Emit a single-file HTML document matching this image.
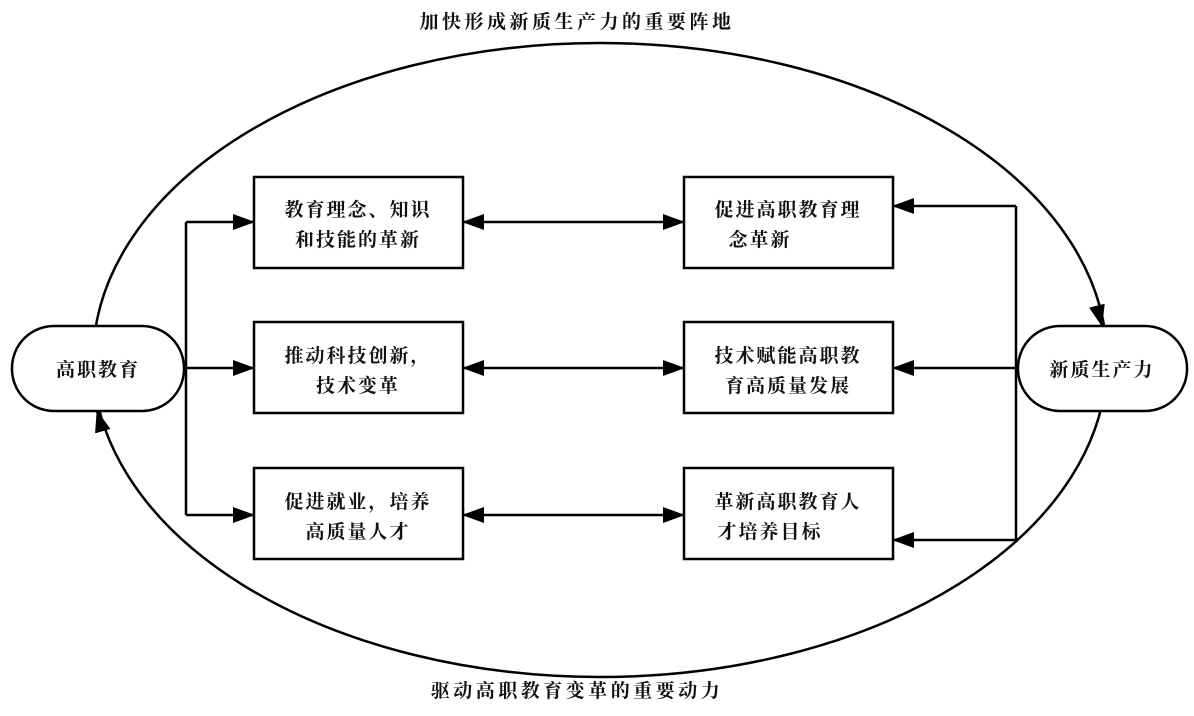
<!DOCTYPE html>
<html><head><meta charset="utf-8"><style>
body{margin:0;background:#fff;}
svg text{font-family:"Liberation Serif","Noto Serif CJK SC",serif;font-size:19px;font-weight:bold;fill:#111;text-anchor:middle;letter-spacing:2px;}
</style></head><body>
<svg width="1194" height="711" xmlns="http://www.w3.org/2000/svg">
<defs>
<marker id="b" markerWidth="22" markerHeight="16" refX="21" refY="8" orient="auto-start-reverse" markerUnits="userSpaceOnUse"><path d="M0,0 L22,8 L0,16 z" fill="#000"/></marker>
</defs>
<g stroke="#000" stroke-width="2.5" fill="none">
<ellipse cx="600" cy="360" rx="507" ry="317"/>
<path d="M1100,318 L1102,326" marker-end="url(#b)"/>
<path d="M99,418 L97,411" marker-end="url(#b)"/>
<rect x="12" y="326" width="172" height="85" rx="42" fill="#fff"/>
<rect x="1018" y="326" width="169" height="85" rx="42" fill="#fff"/>
<rect x="254" y="177" width="209" height="91" fill="#fff"/>
<rect x="254" y="322" width="209" height="91" fill="#fff"/>
<rect x="254" y="468" width="209" height="91" fill="#fff"/>
<rect x="684" y="177" width="209" height="91" fill="#fff"/>
<rect x="684" y="322" width="209" height="91" fill="#fff"/>
<rect x="684" y="468" width="209" height="91" fill="#fff"/>
<path d="M186,222 L186,515"/>
<path d="M186,222 L254,222" marker-end="url(#b)"/>
<path d="M184,368 L254,368" marker-end="url(#b)"/>
<path d="M186,515 L254,515" marker-end="url(#b)"/>
<path d="M1016,206 L1016,540"/>
<path d="M1016,206 L893,206" marker-end="url(#b)"/>
<path d="M1018,368 L893,368" marker-end="url(#b)"/>
<path d="M1016,540 L893,540" marker-end="url(#b)"/>
<path d="M463,222 L684,222" marker-start="url(#b)" marker-end="url(#b)"/>
<path d="M463,368 L684,368" marker-start="url(#b)" marker-end="url(#b)"/>
<path d="M463,515 L684,515" marker-start="url(#b)" marker-end="url(#b)"/>
</g>
<text x="577" y="28" style="letter-spacing:3.5px">加快形成新质生产力的重要阵地</text>
<text x="577" y="697" style="letter-spacing:3.5px">驱动高职教育变革的重要动力</text>
<text x="98" y="376">高职教育</text>
<text x="1102" y="376">新质生产力</text>
<text x="358" y="216">教育理念、知识</text>
<text x="358" y="246">和技能的革新</text>
<text x="358" y="362">推动科技创新，</text>
<text x="358" y="392">技术变革</text>
<text x="358" y="508">促进就业，培养</text>
<text x="358" y="538">高质量人才</text>
<text x="788" y="216">促进高职教育理</text>
<text x="760" y="246">念革新</text>
<text x="788" y="362">技术赋能高职教</text>
<text x="788" y="392">育高质量发展</text>
<text x="788" y="508">革新高职教育人</text>
<text x="770" y="538">才培养目标</text>
</svg>
</body></html>
